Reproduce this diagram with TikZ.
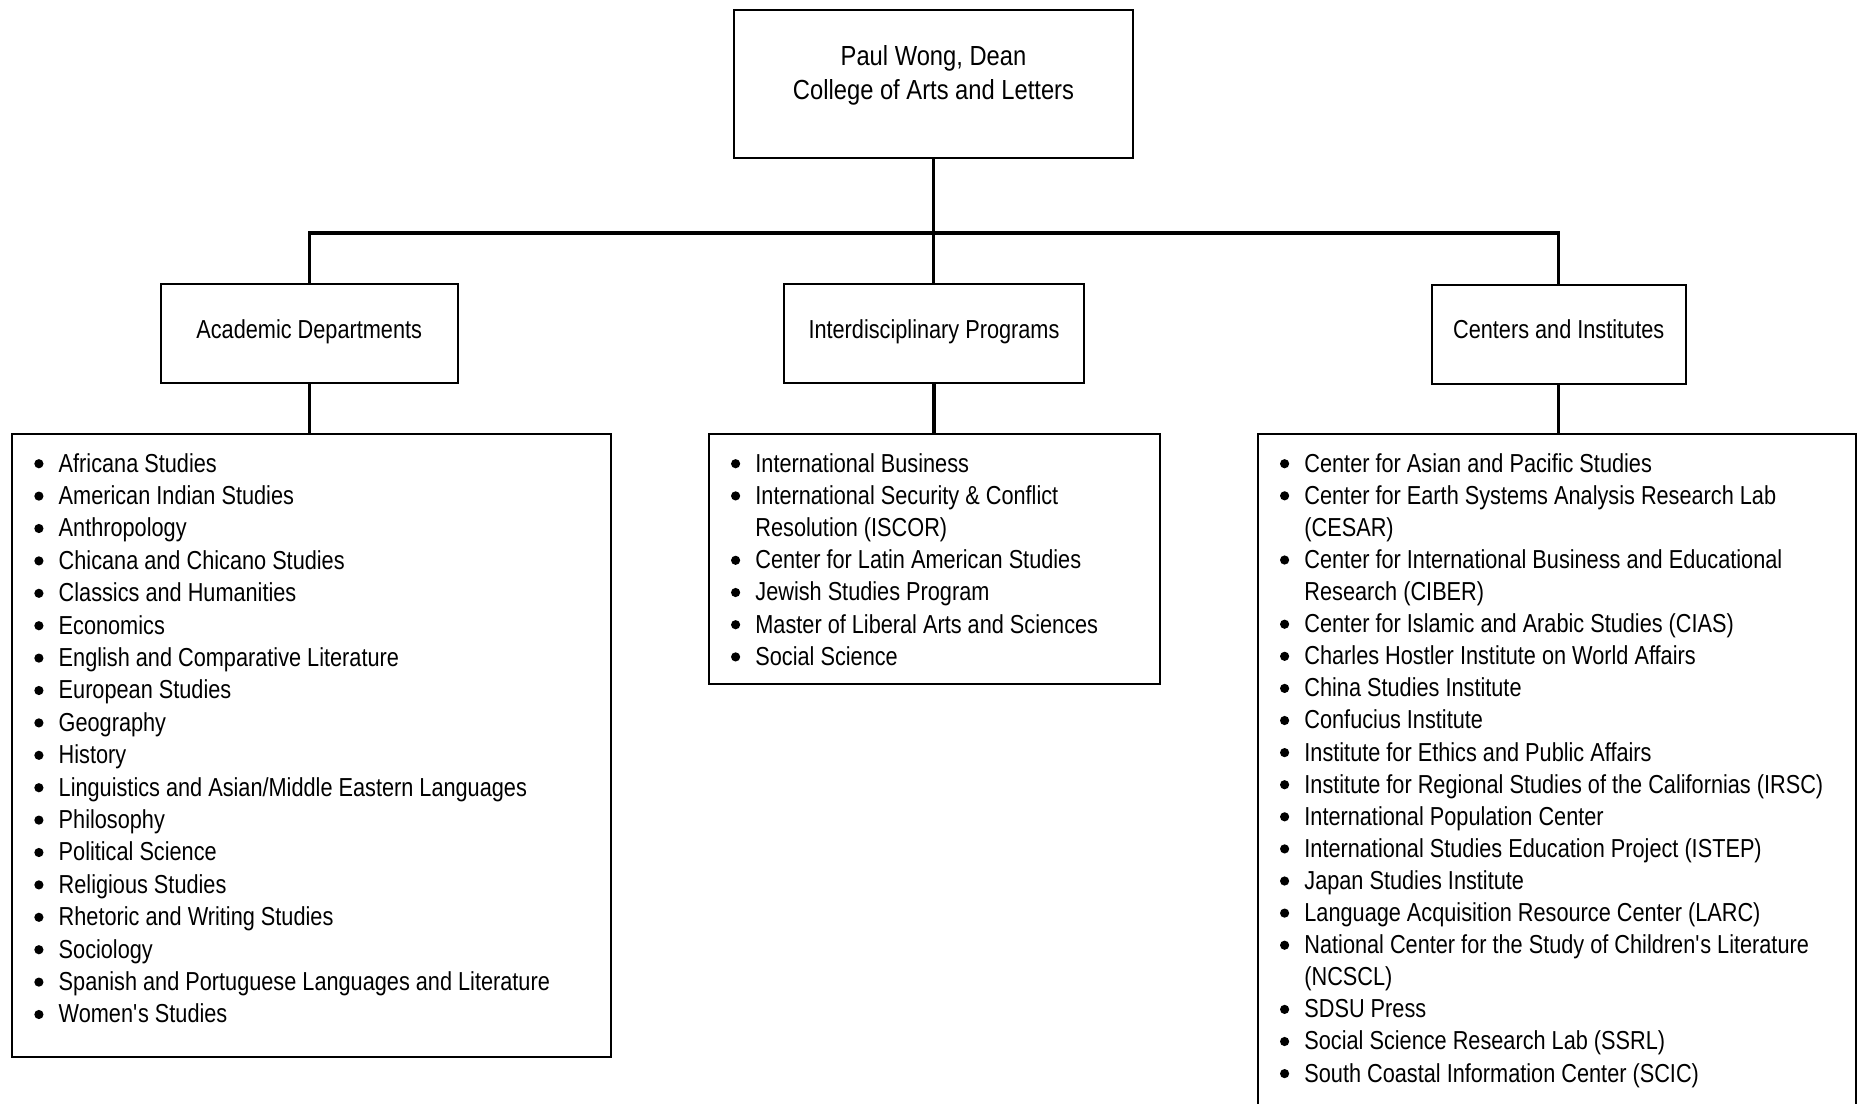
\documentclass[tikz,border=0pt]{standalone}
\usepackage{fontspec}
\setmainfont{Liberation Sans}[FakeStretch=0.835]
\newfontfamily\deanfont{Liberation Sans}[FakeStretch=0.86]
\newcommand\bl{\makebox[12.2pt][l]{\tikz[baseline=0pt]\fill[black] (2.2pt,4.2pt) circle (2.3pt);}}
\newcommand\ind{\hspace*{12.2pt}}
\newcommand\fr{\rule{0pt}{12pt}}
\begin{document}
\begin{tikzpicture}[x=0.5pt,y=-0.5pt,
  boxnode/.style={draw=black, line width=1pt, inner sep=0pt, outer sep=0pt, rectangle},
  conn/.style={draw=black, line width=1.7pt},
  lbl/.style={inner sep=0pt, font=\fontsize{13}{16.1}\selectfont},
  lst/.style={inner sep=0pt, anchor=north west, align=left}]
\useasboundingbox (0,0) rectangle (1860,1104);
\clip (0,0) rectangle (1860,1104);
\fill[white] (0,0) rectangle (1860,1104);

% boxes
\node[boxnode, minimum width=199.5pt, minimum height=74.25pt] (dean) at (933.5,83.75) {};
\node[boxnode, minimum width=148.5pt, minimum height=49.65pt] (acad) at (309.2,333.65) {};
\node[boxnode, minimum width=150pt, minimum height=49.65pt] (inter) at (934,333.65) {};
\node[boxnode, minimum width=127pt, minimum height=49.9pt] (cent) at (1558.7,334.4) {};
\node[boxnode, minimum width=299.6pt, minimum height=311.65pt] (acadlist) at (311.3,745.65) {};
\node[boxnode, minimum width=225.35pt, minimum height=125pt] (interlist) at (934.65,559) {};
\node[boxnode, minimum width=299.05pt, minimum height=348pt] (centlist) at (1557.35,782) {};

% connectors
\coordinate (busR) at (1558.7,233);
\draw[conn] (dean.south) -- (dean.south |- inter.north);
\draw[conn] (acad.north) |- (busR) -- (cent.north);
\draw[conn] (acad.south) -- (acad.south |- acadlist.north);
\draw[conn] (inter.south) -- (inter.south |- interlist.north);
\draw[conn] (cent.south) -- (cent.south |- centlist.north);

% labels
\node[lbl, align=center, anchor=north, font=\deanfont\fontsize{13.8}{17.15}\selectfont] (deantxt) at (933.5,41)
  {\fr Paul Wong, Dean\\College of Arts and Letters};
\node[lbl, anchor=base] (acadtxt) at (309.2,338.3) {Academic Departments};
\node[lbl, anchor=base] (intertxt) at (934,338.3) {Interdisciplinary Programs};
\node[lbl, anchor=base] (centtxt) at (1558.7,338.3) {Centers and Institutes};

% lists
\node[lst, font=\fontsize{13}{16.2}\selectfont] (acaditems) at (33.9,447.7) {\fr\bl Africana Studies\\
\bl American Indian Studies\\
\bl Anthropology\\
\bl Chicana and Chicano Studies\\
\bl Classics and Humanities\\
\bl Economics\\
\bl English and Comparative Literature\\
\bl European Studies\\
\bl Geography\\
\bl History\\
\bl Linguistics and Asian/Middle Eastern Languages\\
\bl Philosophy\\
\bl Political Science\\
\bl Religious Studies\\
\bl Rhetoric and Writing Studies\\
\bl Sociology\\
\bl Spanish and Portuguese Languages and Literature\\
\bl Women\textquotesingle s Studies};

\node[lst, font=\fontsize{13}{16.1}\selectfont] (interitems) at (730.6,447.7) {\fr\bl International Business\\
\bl International Security \& Conflict\\
\ind Resolution (ISCOR)\\
\bl Center for Latin American Studies\\
\bl Jewish Studies Program\\
\bl Master of Liberal Arts and Sciences\\
\bl Social Science};

\node[lst, font=\fontsize{13}{16.05}\selectfont] (centitems) at (1279.6,447.7) {\fr\bl Center for Asian and Pacific Studies\\
\bl Center for Earth Systems Analysis Research Lab\\
\ind (CESAR)\\
\bl Center for International Business and Educational\\
\ind Research (CIBER)\\
\bl Center for Islamic and Arabic Studies (CIAS)\\
\bl Charles Hostler Institute on World Affairs\\
\bl China Studies Institute\\
\bl Confucius Institute\\
\bl Institute for Ethics and Public Affairs\\
\bl Institute for Regional Studies of the Californias (IRSC)\\
\bl International Population Center\\
\bl International Studies Education Project (ISTEP)\\
\bl Japan Studies Institute\\
\bl Language Acquisition Resource Center (LARC)\\
\bl National Center for the Study of Children\textquotesingle s Literature\\
\ind (NCSCL)\\
\bl SDSU Press\\
\bl Social Science Research Lab (SSRL)\\
\bl South Coastal Information Center (SCIC)};
\end{tikzpicture}
\end{document}
